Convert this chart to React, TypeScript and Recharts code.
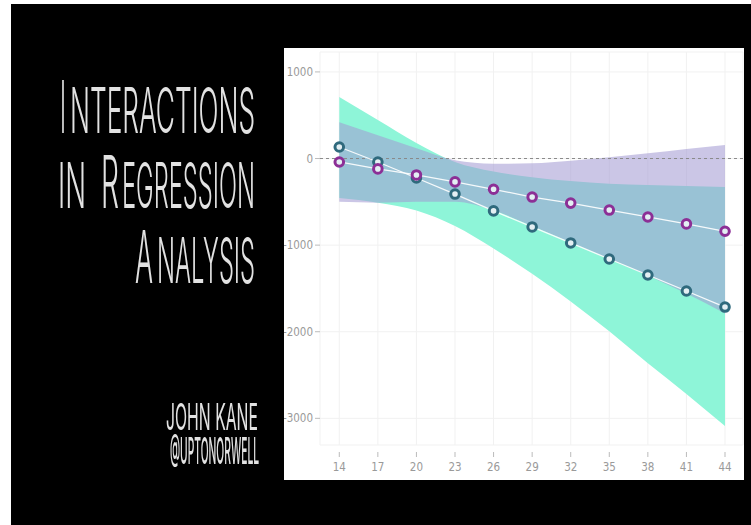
import React from 'react';
import {
  ComposedChart,
  Area,
  Line,
  XAxis,
  YAxis,
  CartesianGrid,
  ReferenceLine,
} from 'recharts';

const xValues = [14, 17, 20, 23, 26, 29, 32, 35, 38, 41, 44];
const tealMean = [133, -40, -225, -410, -605, -790, -975, -1160, -1345, -1530, -1715];
const purpleMean = [-40, -120, -190, -270, -355, -445, -515, -595, -675, -755, -840];
const tealUpper = [710, 445, 180, -40, -150, -215, -260, -290, -305, -318, -330];
const tealLower = [-455, -510, -600, -780, -1040, -1330, -1650, -1995, -2365, -2720, -3090];
const purpleUpper = [420, 270, 120, -20, -60, -55, -25, 15, 60, 110, 155];
const purpleLower = [-500, -510, -500, -500, -600, -780, -970, -1160, -1350, -1560, -1790];
const yTicks = [-3000, -2000, -1000, 0, 1000];

const data = xValues.map((x, i) => ({
  x,
  teal: tealMean[i],
  purple: purpleMean[i],
  tealBand: [tealLower[i], tealUpper[i]],
  purpleBand: [purpleLower[i], purpleUpper[i]],
}));

const TICK_FONT = "'Liberation Sans Narrow', 'DejaVu Sans Condensed', sans-serif";
const TITLE_FONT = "Inter, 'DejaVu Sans Condensed', sans-serif";

// Title pieces: text, left x, width, baseline y, font size, vertical stretch, weight
const titlePieces: [string, number, number, number, number, number, number][] = [
  ['I', 60, 6, 133, 30, 2.42, 300],
  ['NTERACTIONS', 70, 185, 133, 26, 2.42, 300],
  ['IN', 58, 28, 208, 26, 2.42, 300],
  ['R', 101, 18, 208, 30, 2.42, 300],
  ['EGRESSION', 122, 133, 208, 26, 2.42, 300],
  ['A', 135, 18, 283, 30, 2.42, 300],
  ['NALYSIS', 157, 98, 283, 26, 2.42, 300],
  ['JOHN KANE', 166, 92, 430, 16, 2.3, 400],
  ['@UPTONORWELL', 170, 89, 464, 10.4, 3.5, 500],
];

const XTick = (props: any) => {
  const { x, y, payload } = props;
  return (
    <g>
      <line x1={x} x2={x} y1={y + 7} y2={y + 12} stroke="#bbb" strokeWidth={1} />
      <text x={x} y={y + 26} textAnchor="middle" fontSize={11.5} fill="#9a9a9a" fontFamily={TICK_FONT}>
        {payload.value}
      </text>
    </g>
  );
};

const YTick = (props: any) => {
  const { x, y, payload } = props;
  return (
    <g>
      <line x1={x - 5} x2={x} y1={y} y2={y} stroke="#bbb" strokeWidth={1} />
      <text x={x - 7} y={y + 4} textAnchor="end" fontSize={11.5} fill="#9a9a9a" fontFamily={TICK_FONT}>
        {payload.value}
      </text>
    </g>
  );
};

const ringDot = (color: string) => (props: any) => {
  const { cx, cy, index } = props;
  if (cx == null || cy == null) return <g key={index} />;
  return <circle key={index} cx={cx} cy={cy} r={4.3} stroke={color} strokeWidth={3} fill="#e4eff3" />;
};

export default function App() {
  return (
    <div style={{ position: 'fixed', left: 0, top: 0, width: 751, height: 525, background: '#fff', overflow: 'hidden' }}>
      <div style={{ position: 'absolute', left: 11, top: 4, width: 740, height: 521, background: '#000' }} />
      <svg style={{ position: 'absolute', left: 0, top: 0, filter: 'blur(0.3px)' }} width={284} height={525}>
        <g fill="#e2e2e2" fontFamily={TITLE_FONT}>
          {titlePieces.map(([t, x, w, y, fs, k, wt], i) => (
            <text
              key={i}
              x={0}
              y={0}
              transform={`translate(${x},${y}) scale(1,${k})`}
              fontSize={fs}
              fontWeight={wt}
              textLength={w}
              lengthAdjust="spacingAndGlyphs"
            >
              {t}
            </text>
          ))}
        </g>
      </svg>
      <div style={{ position: 'absolute', left: 284, top: 48, width: 460, height: 432, background: '#fff' }}>
        <ComposedChart
          width={460}
          height={432}
          data={data}
          margin={{ top: 4, right: 1, bottom: 0, left: 0 }}
        >
          <CartesianGrid stroke="#f1f1f1" strokeWidth={1} />
          <XAxis
            type="number"
            dataKey="x"
            domain={[12.5, 45.4]}
            ticks={xValues}
            allowDataOverflow
            axisLine={false}
            tickLine={false}
            tickSize={0}
            tickMargin={0}
            height={35}
            tick={<XTick />}
            interval={0}
          />
          <YAxis
            type="number"
            domain={[-3308, 1230]}
            ticks={yTicks}
            allowDataOverflow
            axisLine={false}
            tickLine={false}
            tickSize={0}
            tickMargin={0}
            width={36}
            tick={<YTick />}
            interval={0}
          />
          <Area
            dataKey="tealBand"
            type="monotone"
            stroke="none"
            fill="#8ef5d8"
            fillOpacity={1}
            isAnimationActive={false}
          />
          <Area
            dataKey="purpleBand"
            type="monotone"
            stroke="none"
            fill="#a299d2"
            fillOpacity={0.56}
            isAnimationActive={false}
          />
          <ReferenceLine y={0} stroke="#8a8a8a" strokeDasharray="3 3" strokeWidth={1} />
          <Line
            dataKey="teal"
            type="linear"
            stroke="#ffffff"
            strokeWidth={1.3}
            strokeOpacity={0.9}
            dot={ringDot('#2f6a7d')}
            activeDot={false}
            isAnimationActive={false}
          />
          <Line
            dataKey="purple"
            type="linear"
            stroke="#ffffff"
            strokeWidth={1.3}
            strokeOpacity={0.9}
            dot={ringDot('#8c2f96')}
            activeDot={false}
            isAnimationActive={false}
          />
        </ComposedChart>
      </div>
    </div>
  );
}
